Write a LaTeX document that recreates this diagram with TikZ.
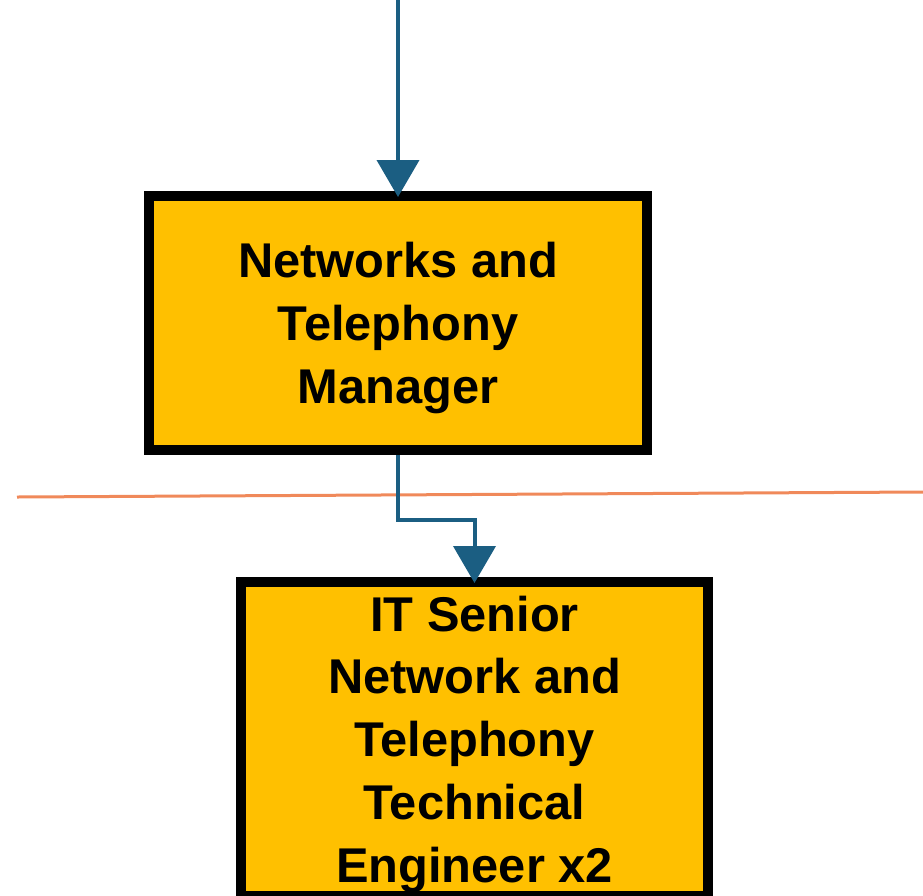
\documentclass[tikz,border=0pt]{standalone}
\usepackage{fontspec}
\setmainfont{Liberation Sans}
\usetikzlibrary{arrows.meta}
\definecolor{rolegold}{HTML}{FFC000}
\definecolor{linkblue}{HTML}{1B5E82}
\definecolor{levelorange}{HTML}{F0895A}
\tikzset{
  rolebox/.style={draw=black, line width=5pt, fill=rolegold, align=center, inner sep=0pt,
    text depth=0pt, font=\fontsize{24.4}{31.4}\selectfont\bfseries},
  link/.style={linkblue, line width=2pt, shorten >=-3pt, -{Triangle[width=21pt,length=18.5pt]}},
}

\begin{document}
\begin{tikzpicture}[x=0.5pt, y=-0.5pt]
        \useasboundingbox (0,0) rectangle (923,896);
        \clip (0,0) rectangle (923,896);
        % level divider
        \draw[levelorange, line width=1.5pt] (17,497) -- (923,492);
        \node[rolebox, minimum width=249pt, minimum height=127pt] (mgr) at (398,323) {Networks and\\Telephony\\Manager};
        \node[rolebox, minimum width=233.5pt, minimum height=157pt] (eng) at (474.5,739) {IT Senior\\Network and\\Telephony\\Technical\\Engineer x2};
        \coordinate (feed) at (398,0);
        \draw[link] (feed) -- (mgr.north);
        \draw[link] (mgr.south) -- ++(0,65) -| (eng.north);
\end{tikzpicture}
\end{document}
